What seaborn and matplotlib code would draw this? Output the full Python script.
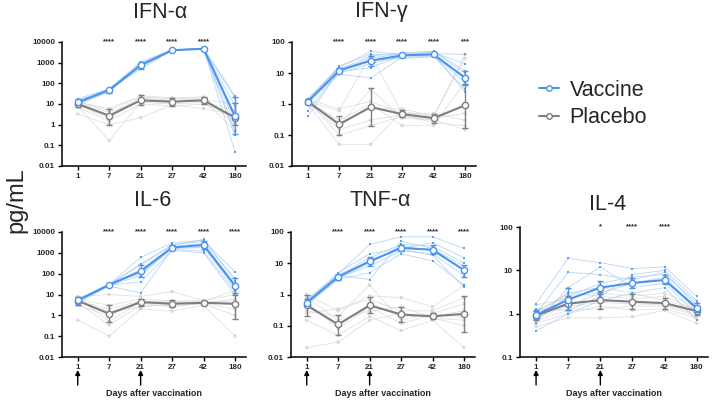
import numpy as np
import pandas as pd
import seaborn as sns
import matplotlib.pyplot as plt
from matplotlib.ticker import FixedLocator, FuncFormatter, NullLocator
from matplotlib.lines import Line2D

sns.set_style("white")
plt.rcParams["font.family"] = ["Liberation Sans", "DejaVu Sans"]

days = ["1", "7", "21", "27", "42", "180"]

# ---- IFN-alpha ----
ifna_vac_mean = [12, 48, 750, 4000, 4700, 2.5]
ifna_vac_lo = [9, 36, 500, 3800, 4450, 0.35]
ifna_vac_hi = [17, 56, 1100, 4250, 5050, 22]
ifna_pla_mean = [10, 2.7, 15, 13, 15, 2.2]
ifna_pla_lo = [7, 1.0, 9, 8, 10, 1.0]
ifna_pla_hi = [13, 6, 27, 20, 22, 11]
ifna_vac_subj = [
    [15, 50, 900, 4100, 4800, 20],
    [10, 45, 600, 3900, 4600, 3],
    [18, 55, 1100, 4200, 5000, 25],
    [9, 40, 700, 4000, 4700, 0.3],
    [12, 48, 800, 4000, 4750, 8],
    [14, 52, 500, 3950, 4650, 0.5],
    [11, 38, 950, 4100, 4900, 1.2],
    [13, 47, 750, 4050, 4800, 0.05],
]
ifna_pla_subj = [
    [10, 3, 20, 15, 18, 2],
    [8, 0.17, 12, 10, 12, 5],
    [12, 6, 25, 20, 22, 1],
    [3.3, 1, 2.2, 9, 6, 3],
    [9, 2, 18, 14, 16, 10],
    [11, 4, 14, 12, 15, 0.5],
    [7, 1.5, 10, 8, 10, 2.5],
    [13, 5, 22, 18, 20, 1.5],
]
ifna_stars = ["", "****", "****", "****", "****", ""]

# ---- IFN-gamma ----
ifng_vac_mean = [1.2, 12, 25, 37, 40, 7]
ifng_vac_lo = [1.0, 10, 17, 33, 35, 4]
ifng_vac_hi = [1.5, 15, 35, 42, 45, 12]
ifng_pla_mean = [1.2, 0.22, 0.8, 0.47, 0.35, 0.9]
ifng_pla_lo = [1.0, 0.1, 0.2, 0.37, 0.25, 0.17]
ifng_pla_hi = [1.4, 0.4, 3.2, 0.62, 0.48, 4.5]
ifng_vac_subj = [
    [1.5, 15, 50, 40, 45, 20],
    [1.0, 10, 20, 35, 38, 5],
    [0.4, 12, 30, 42, 48, 10],
    [1.3, 9, 7, 32, 35, 3],
    [1.2, 17, 40, 38, 42, 40],
    [0.6, 11, 15, 36, 40, 2.5],
    [1.4, 14, 25, 30, 33, 8],
    [1.1, 13, 35, 45, 50, 12],
]
ifng_pla_subj = [
    [1.2, 0.6, 40, 0.5, 0.4, 40],
    [1.3, 0.1, 0.2, 0.4, 0.3, 0.15],
    [1.0, 0.05, 0.05, 0.6, 0.35, 0.5],
    [1.2, 0.3, 1.0, 0.2, 0.2, 5],
    [1.4, 0.7, 1.2, 0.5, 0.5, 0.3],
    [1.1, 0.15, 0.3, 0.45, 0.25, 0.2],
    [1.3, 0.25, 0.7, 0.7, 0.4, 30],
    [1.2, 0.2, 3, 0.35, 0.3, 1.0],
]
ifng_stars = ["", "****", "****", "****", "****", "***"]

# ---- IL-6 ----
il6_vac_mean = [5.2, 29, 130, 1800, 2400, 27]
il6_vac_lo = [3, 25, 70, 1300, 1500, 12]
il6_vac_hi = [8, 33, 250, 2500, 3500, 60]
il6_pla_mean = [5, 1.2, 4.3, 3.6, 4.0, 3.6]
il6_pla_lo = [3, 0.5, 2.8, 2.4, 3.2, 0.7]
il6_pla_hi = [8, 3, 6, 5.5, 5, 10]
il6_vac_subj = [
    [5, 30, 600, 3000, 4000, 120],
    [4, 25, 12, 1500, 1200, 15],
    [6, 32, 250, 2500, 3500, 60],
    [5.5, 28, 40, 1300, 1000, 10],
    [5, 31, 150, 2000, 2800, 30],
    [4.5, 27, 80, 1700, 2000, 20],
    [5.2, 29, 300, 2200, 4500, 45],
    [5.3, 33, 100, 1600, 1800, 25],
]
il6_pla_subj = [
    [8, 10, 8, 14, 5, 15],
    [0.6, 0.1, 2, 1.6, 3, 0.1],
    [5, 2, 5, 4, 4.5, 3],
    [4, 0.35, 3, 3, 3.5, 1],
    [6, 3, 6, 5, 5, 10],
    [3, 1, 4, 2.5, 4, 6],
    [5, 1.5, 2.5, 3.5, 3.8, 2],
    [7, 0.5, 4.5, 4.5, 4.2, 5],
]
il6_stars = ["", "****", "****", "****", "****", "****"]

# ---- TNF-alpha ----
tnf_vac_mean = [0.55, 3.7, 11.5, 31, 27, 6]
tnf_vac_lo = [0.45, 3, 8, 25, 20, 3.5]
tnf_vac_hi = [0.7, 4.5, 16, 38, 37, 9]
tnf_pla_mean = [0.45, 0.11, 0.45, 0.23, 0.2, 0.24]
tnf_pla_lo = [0.2, 0.05, 0.25, 0.13, 0.16, 0.065]
tnf_pla_hi = [1.0, 0.22, 0.85, 0.4, 0.25, 0.9]
tnf_vac_subj = [
    [0.7, 4.5, 40, 70, 70, 30],
    [0.5, 3, 5, 20, 12, 2],
    [0.6, 4, 15, 40, 35, 10],
    [0.45, 3.5, 8, 25, 20, 4],
    [0.55, 5, 20, 30, 45, 15],
    [0.5, 3.2, 10, 35, 25, 6],
    [0.65, 3.8, 12, 28, 18, 1.7],
    [0.6, 4.2, 3, 50, 30, 8],
]
tnf_pla_subj = [
    [0.15, 0.05, 0.2, 0.07, 0.15, 0.02],
    [1.0, 0.3, 0.9, 0.8, 0.4, 2],
    [0.02, 0.03, 0.15, 0.25, 0.18, 0.1],
    [0.5, 0.1, 0.5, 0.2, 0.2, 0.3],
    [0.3, 0.2, 2, 0.15, 0.25, 0.5],
    [0.8, 0.15, 0.3, 0.4, 0.18, 0.15],
    [0.6, 0.08, 0.4, 0.12, 0.22, 0.2],
    [0.25, 0.35, 0.7, 0.3, 0.3, 0.8],
]
tnf_stars = ["", "****", "****", "****", "****", "****"]

# ---- IL-4 ----
il4_vac_mean = [0.93, 2.1, 4.0, 5.1, 6.0, 1.35]
il4_vac_lo = [0.75, 1.2, 2.8, 4.0, 4.8, 1.1]
il4_vac_hi = [1.2, 4.0, 5.8, 6.8, 8.0, 1.8]
il4_pla_mean = [0.9, 1.7, 2.05, 1.9, 1.75, 1.15]
il4_pla_lo = [0.7, 1.2, 1.3, 1.25, 1.3, 0.95]
il4_pla_hi = [1.15, 2.6, 3.2, 2.9, 2.3, 1.4]
il4_vac_subj = [
    [1.7, 19, 15, 11, 12, 2.5],
    [0.4, 1.0, 2, 3, 4, 0.7],
    [1.0, 9, 8, 6, 9, 1.5],
    [1.2, 1.5, 3, 5, 6, 1.2],
    [0.8, 2.5, 5, 7, 8, 1.8],
    [0.6, 4, 12, 4, 5, 1.0],
    [1.3, 1.2, 2.5, 8, 10, 2.0],
    [0.9, 3, 4, 5, 7, 1.3],
]
il4_pla_subj = [
    [0.9, 1.8, 2, 1.8, 1.7, 1.1],
    [0.5, 0.8, 0.8, 0.85, 1.2, 0.6],
    [1.2, 2.5, 3, 2.5, 3, 1.4],
    [0.7, 1.2, 1.3, 1.5, 1.5, 0.9],
    [1.6, 2.2, 4, 3, 2, 1.3],
    [0.6, 1.0, 1.5, 1.2, 1.3, 0.8],
    [1.1, 3, 2.5, 2.2, 2.5, 1.2],
    [0.8, 1.5, 1.8, 1.7, 1.6, 1.0],
]
il4_stars = ["", "", "*", "****", "****", ""]

VAC = "#4a94f0"
PLA = "#7f7f7f"
VAC_LIGHT = "#a8cbf5"
PLA_LIGHT = "#d4d4d4"

W, H = 714, 400
fig = plt.figure(figsize=(W / 100, H / 100), dpi=100)


def px_axes(left, top, bottom, width):
    return fig.add_axes([left / W, (H - bottom) / H, width / W, (bottom - top) / H])


def long_df(subj, group):
    rows = []
    for i, s in enumerate(subj):
        for j, v in enumerate(s):
            rows.append({"subject": f"{group}{i}", "x": j, "value": v, "group": group})
    return pd.DataFrame(rows)


def panel(ax, title, title_xy, vac_subj, pla_subj, vm, vlo, vhi, pm, plo, phi,
          stars, ylim, yticks, bottom_row):
    x = np.arange(len(days))
    dv = long_df(vac_subj, "Vaccine")
    dp = long_df(pla_subj, "Placebo")
    # individual subjects
    sns.lineplot(data=dp, x="x", y="value", units="subject", estimator=None,
                 color=PLA_LIGHT, lw=0.6, alpha=0.7, ax=ax, legend=False)
    ax.scatter(dp["x"], dp["value"], s=3, facecolor="none", edgecolor="#c4c4c4",
               lw=0.5, zorder=2)
    sns.lineplot(data=dv, x="x", y="value", units="subject", estimator=None,
                 color=VAC_LIGHT, lw=0.6, alpha=0.8, ax=ax, legend=False)
    ax.scatter(dv["x"], dv["value"], s=3, marker="s", color="#5aa0f2", lw=0, zorder=3)

    # group means with error bars
    for m, lo, hi, c, z in [(pm, plo, phi, PLA, 4), (vm, vlo, vhi, VAC, 5)]:
        m = np.array(m)
        yerr = [m - np.array(lo), np.array(hi) - m]
        ax.errorbar(x, m, yerr=yerr, fmt="none", ecolor=c, elinewidth=1,
                    capsize=2, capthick=1, zorder=z)
        sns.lineplot(x=x, y=m, color=c, lw=1.5, marker="o", markersize=4.5,
                     markerfacecolor="white", markeredgecolor=c, markeredgewidth=1,
                     ax=ax, zorder=z + 1, legend=False)

    ax.set_yscale("log")
    ax.set_ylim(*ylim)
    ax.yaxis.set_major_locator(FixedLocator(yticks))
    ax.yaxis.set_minor_locator(NullLocator())
    ax.yaxis.set_major_formatter(FuncFormatter(lambda v, p: f"{v:g}"))
    ax.set_xlim(-0.5, 5.35)
    ax.set_xticks(x)
    ax.set_xticklabels(days)
    ax.set_xlabel("")
    ax.set_ylabel("")
    for sp in ["top", "right"]:
        ax.spines[sp].set_visible(False)
    for sp in ["left", "bottom"]:
        ax.spines[sp].set_linewidth(1.1)
        ax.spines[sp].set_color("black")
    ax.tick_params(axis="both", which="major", length=3, width=1, direction="out",
                   labelsize=5.8, pad=2, color="black", left=True, bottom=True)
    for lab in ax.get_xticklabels() + ax.get_yticklabels():
        lab.set_fontweight("bold")

    for i, s in enumerate(stars):
        if s:
            ax.text(i, ylim[1], s, ha="center", va="center", fontsize=5.5,
                    fontweight="bold")

    fig.text(title_xy[0] / W, 1 - title_xy[1] / H, title, ha="center", va="center",
             fontsize=15.5)

    if bottom_row:
        trans = ax.get_xaxis_transform()
        hpx = ax.get_position().height * H
        for xi in [0, 2]:
            ax.annotate("", xy=(xi, -13 / hpx), xytext=(xi, -28 / hpx),
                        xycoords=trans, textcoords=trans,
                        arrowprops=dict(arrowstyle="-|>", color="black", lw=1,
                                        mutation_scale=7, shrinkA=0, shrinkB=0))
        ax.text(0.5, -36 / hpx, "Days after vaccination", transform=ax.transAxes,
                ha="center", va="center", fontsize=6.5, fontweight="bold")


ax1 = px_axes(62, 42, 166, 184)
panel(ax1, "IFN-α", (160, 12), ifna_vac_subj, ifna_pla_subj,
      ifna_vac_mean, ifna_vac_lo, ifna_vac_hi, ifna_pla_mean, ifna_pla_lo, ifna_pla_hi,
      ifna_stars, (0.01, 10000), [0.01, 0.1, 1, 10, 100, 1000, 10000], False)

ax2 = px_axes(292, 42, 166, 184)
panel(ax2, "IFN-γ", (381, 12), ifng_vac_subj, ifng_pla_subj,
      ifng_vac_mean, ifng_vac_lo, ifng_vac_hi, ifng_pla_mean, ifng_pla_lo, ifng_pla_hi,
      ifng_stars, (0.01, 100), [0.01, 0.1, 1, 10, 100], False)

ax3 = px_axes(62, 232, 357, 184)
panel(ax3, "IL-6", (153, 201), il6_vac_subj, il6_pla_subj,
      il6_vac_mean, il6_vac_lo, il6_vac_hi, il6_pla_mean, il6_pla_lo, il6_pla_hi,
      il6_stars, (0.01, 10000), [0.01, 0.1, 1, 10, 100, 1000, 10000], True)

ax4 = px_axes(291, 232, 357, 184)
panel(ax4, "TNF-α", (380, 201), tnf_vac_subj, tnf_pla_subj,
      tnf_vac_mean, tnf_vac_lo, tnf_vac_hi, tnf_pla_mean, tnf_pla_lo, tnf_pla_hi,
      tnf_stars, (0.01, 100), [0.01, 0.1, 1, 10, 100], True)

ax5 = px_axes(520, 227, 357, 188)
panel(ax5, "IL-4", (608, 205), il4_vac_subj, il4_pla_subj,
      il4_vac_mean, il4_vac_lo, il4_vac_hi, il4_pla_mean, il4_pla_lo, il4_pla_hi,
      il4_stars, (0.1, 100), [0.1, 1, 10, 100], True)

fig.text(16 / W, 1 - 200 / H, "pg/mL", rotation=90, ha="center", va="center",
         fontsize=17)

handles = [
    Line2D([], [], color=VAC, lw=1.5, marker="o", markersize=4,
           markerfacecolor="white", markeredgecolor=VAC),
    Line2D([], [], color=PLA, lw=1.5, marker="o", markersize=4,
           markerfacecolor="white", markeredgecolor=PLA),
]
fig.legend(handles, ["Vaccine", "Placebo"], loc="center left",
           bbox_to_anchor=(520 / W, 1 - 104 / H), frameon=False, fontsize=15.5,
           handlelength=0.9, handletextpad=0.5, labelspacing=0.3)

fig.savefig("out.png", dpi=100)
